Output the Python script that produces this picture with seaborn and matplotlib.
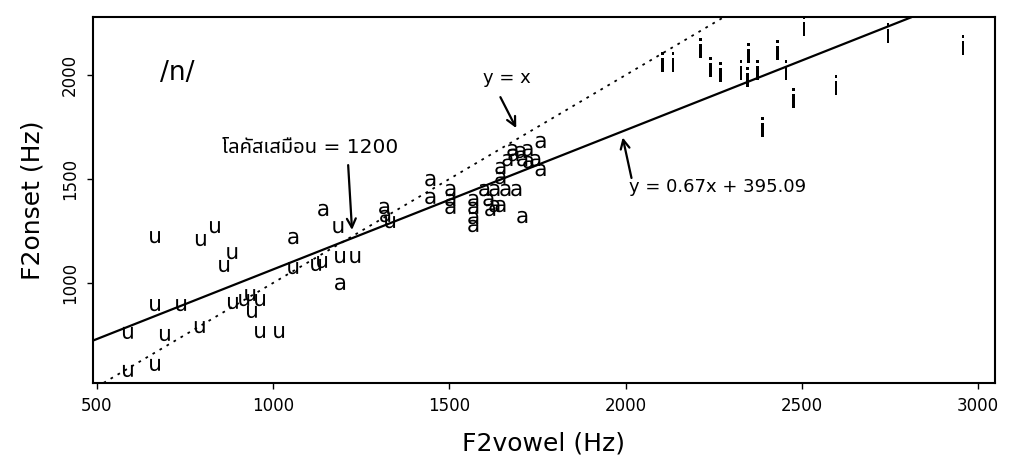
import matplotlib
matplotlib.use("Agg")
import matplotlib.pyplot as plt
from matplotlib import font_manager as fm
import seaborn as sns
import pandas as pd

# ---- data ----
u_x = [588, 665, 665, 588, 665, 693, 739, 795, 835, 792, 861, 884, 886, 918, 935,
       963, 940, 963, 1017, 1057, 1122, 1139, 1190, 1233, 1185, 1332]
u_y = [760, 1221, 894, 577, 606, 750, 894, 1207, 1269, 788, 1082, 1144, 904, 918, 942,
       918, 861, 764, 764, 1072, 1087, 1101, 1125, 1125, 1269, 1293]

a_x = [1057, 1142, 1190, 1315, 1318, 1446, 1446, 1503, 1503, 1503, 1568, 1568, 1568,
       1568, 1599, 1628, 1659, 1690, 1611, 1628, 1645, 1616, 1707, 1645, 1665, 1682,
       1702, 1722, 1679, 1759, 1759, 1744, 1707, 1724, 1645]
a_y = [1216, 1351, 995, 1361, 1322, 1495, 1409, 1447, 1399, 1361, 1399, 1361, 1312,
       1274, 1447, 1447, 1447, 1447, 1399, 1370, 1370, 1351, 1317, 1553, 1591, 1615,
       1630, 1639, 1639, 1678, 1543, 1591, 1591, 1582, 1505]

i_x = [2105, 2134, 2213, 2241, 2270, 2327, 2349, 2346, 2375, 2431, 2455, 2506, 2477,
       2389, 2597, 2744, 2957]
i_y = [2062, 2062, 2130, 2038, 2014, 2024, 2106, 1990, 2024, 2120, 2024, 2235, 1889,
       1750, 1952, 2202, 2144]

fit_slope = 0.67
fit_intercept = 395.09
x_ticks = [500, 1000, 1500, 2000, 2500, 3000]
y_ticks = [1000, 1500, 2000]

df = pd.DataFrame({
    "F2vowel": u_x + a_x + i_x,
    "F2onset": u_y + a_y + i_y,
    "vowel": ["u"] * len(u_x) + ["a"] * len(a_x) + ["i"] * len(i_x),
})

sns.set_theme(style="white")
plt.rcParams.update({"text.color": "black", "axes.labelcolor": "black",
                     "xtick.color": "black", "ytick.color": "black"})

available = {f.name for f in fm.fontManager.ttflist}
thai_prefs = ["Noto Sans Thai", "Noto Sans Thai Looped", "Sarabun", "IBM Plex Sans Thai Looped",
              "IBM Plex Sans Thai", "Anuphan", "Bai Jamjuree", "Athiti", "FreeSerif"]
thai_font = next((n for n in thai_prefs if n in available), "DejaVu Sans")
plt.rcParams["font.family"] = ["DejaVu Sans", thai_font]

fig = plt.figure(figsize=(10.11, 4.63), dpi=100)
ax = fig.add_axes([0.092, 0.173, 0.892, 0.790])

sns.scatterplot(data=df, x="F2vowel", y="F2onset", style="vowel", size="vowel",
                sizes={"u": 80, "a": 80, "i": 200},
                markers={"u": r"$\mathrm{u}$", "a": r"$\mathrm{a}$", "i": r"$\mathrm{i}$"},
                color="black", linewidth=0, legend=False, ax=ax, zorder=3)
for coll in ax.collections:
    coll.set_clip_on(False)

ax.axline((0, fit_intercept), slope=fit_slope, color="black", lw=1.6, zorder=2)
ax.axline((0, 0), slope=1, color="black", lw=1.3, ls=(0, (1.5, 3)), zorder=2)

ax.set_xlim(489, 3048)
ax.set_ylim(519, 2279)
ax.set_xticks(x_ticks)
ax.set_yticks(y_ticks)
ax.tick_params(axis="both", direction="out", length=4, width=1, color="black",
               labelcolor="black", labelsize=12, bottom=True, left=True, pad=6)
for lab in ax.get_yticklabels():
    lab.set_rotation(90)
    lab.set_va("center")
for sp in ax.spines.values():
    sp.set_color("black")
    sp.set_linewidth(1.5)

ax.set_xlabel("F2vowel (Hz)", fontsize=18, labelpad=12, color="black")
ax.set_ylabel("F2onset (Hz)", fontsize=18, labelpad=12, color="black")

ax.text(679, 2010, "/n/", fontsize=19, ha="left", va="center")

arrow = dict(arrowstyle="->", color="black", lw=1.6, shrinkA=0, shrinkB=0,
             mutation_scale=16)
ax.text(1662, 1986, "y = x", fontsize=13, ha="center", va="center")
ax.annotate("", xy=(1690, 1745), xytext=(1645, 1894), arrowprops=arrow)

ax.text(1105, 1654, "โลคัสเสมือน = 1200", fontsize=14.5, ha="center", va="center")
ax.annotate("", xy=(1224, 1255), xytext=(1213, 1567), arrowprops=arrow)

ax.text(2261, 1462, "y = 0.67x + 395.09", fontsize=13, ha="center", va="center")
ax.annotate("", xy=(1992, 1700), xytext=(2017, 1505), arrowprops=arrow)

fig.savefig("out.png", dpi=100)
